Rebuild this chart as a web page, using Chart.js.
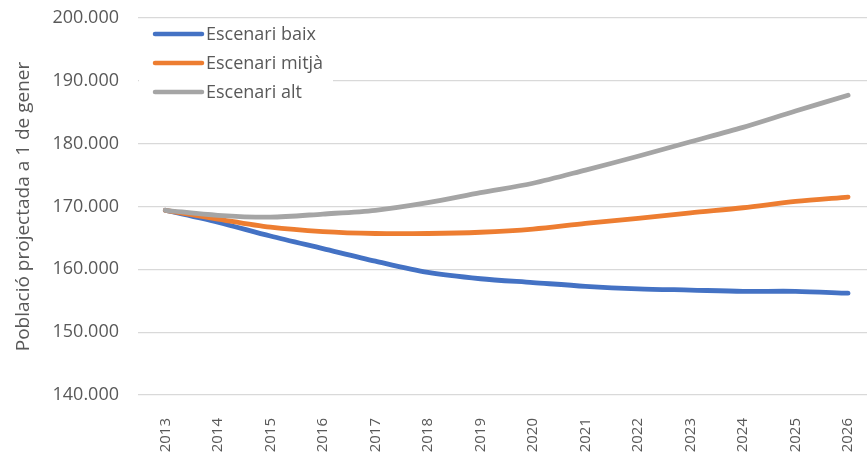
<!DOCTYPE html>
<html>
<head>
<meta charset="utf-8">
<script src="https://cdn.jsdelivr.net/npm/chart.js@4"></script>
<style>
  html, body { margin: 0; padding: 0; background: #fff; }
  #wrap { width: 867px; height: 453px; position: relative; }
</style>
</head>
<body>
<div id="wrap"><canvas id="chart" width="867" height="453"></canvas></div>
<script>
// Years and projected population per scenario
const years = [2013, 2014, 2015, 2016, 2017, 2018, 2019, 2020, 2021, 2022, 2023, 2024, 2025, 2026];
const baix  = [169400, 167500, 165300, 163300, 161300, 159500, 158500, 157900, 157300, 156900, 156700, 156500, 156500, 156200];
const mitja = [169400, 168000, 166700, 166000, 165700, 165700, 165900, 166400, 167300, 168100, 169000, 169800, 170800, 171500];
const alt   = [169400, 168600, 168300, 168800, 169400, 170600, 172200, 173700, 175800, 178000, 180300, 182600, 185200, 187700];
const seriesNames = ['Escenari baix', 'Escenari mitjà', 'Escenari alt'];
const seriesColors = ['#4472C4', '#ED7D31', '#A5A5A5'];
const yTicks = [140000, 150000, 160000, 170000, 180000, 190000, 200000];

const textColor = '#595959';
const font = '"Open Sans", Lato, sans-serif';

function toPoints(values) {
    return values.map((v, i) => ({ x: years[i], y: v }));
}

// Legend drawn inside the plot, top left, on a white box
const insideLegend = {
    id: 'insideLegend',
    afterDatasetsDraw(chart) {
        const ctx = chart.ctx;
        const left = chart.chartArea.left;
        ctx.save();
        ctx.fillStyle = '#ffffff';
        ctx.fillRect(left + 1, 22, 194, 86);
        ctx.font = '18px ' + font;
        ctx.textBaseline = 'middle';
        chart.data.datasets.forEach((ds, i) => {
            const y = 34 + i * 29;
            ctx.strokeStyle = ds.borderColor;
            ctx.lineWidth = 4.5;
            ctx.lineCap = 'round';
            ctx.beginPath();
            ctx.moveTo(left + 17, y);
            ctx.lineTo(left + 64, y);
            ctx.stroke();
            ctx.fillStyle = textColor;
            ctx.fillText(ds.label, left + 68, y + 1);
        });
        ctx.restore();
    }
};

const datasets = [baix, mitja, alt].map((vals, i) => ({
    label: seriesNames[i],
    data: toPoints(vals),
    borderColor: seriesColors[i],
    backgroundColor: seriesColors[i],
    borderWidth: 4.8,
    borderCapStyle: 'round',
    pointRadius: 0,
    tension: 0.3,
    fill: false
}));
// gray on top, then orange, blue at the bottom
datasets[0].order = 3;
datasets[1].order = 2;
datasets[2].order = 1;

new Chart(document.getElementById('chart'), {
    type: 'line',
    data: { datasets: datasets },
    plugins: [insideLegend],
    options: {
        responsive: false,
        animation: false,
        layout: { padding: { top: 18, right: 0, left: 0, bottom: 0 } },
        plugins: {
            legend: { display: false },
            tooltip: { enabled: false }
        },
        scales: {
            x: {
                type: 'linear',
                min: 2012.48,
                max: 2026.36,
                afterBuildTicks(scale) {
                    scale.ticks = years.map(v => ({ value: v }));
                },
                afterFit(scale) {
                    scale.height = 58;
                    scale.paddingLeft = 0;
                    scale.paddingRight = 0;
                },
                grid: { display: false, drawTicks: false },
                border: { display: false },
                ticks: {
                    color: textColor,
                    font: { family: font, size: 15 },
                    minRotation: 90,
                    maxRotation: 90,
                    padding: 23,
                    callback: v => String(v)
                }
            },
            y: {
                min: 140000,
                max: 200000,
                afterBuildTicks(scale) {
                    scale.ticks = yTicks.map(v => ({ value: v }));
                },
                afterFit(scale) {
                    scale.width = 138;
                    scale.paddingTop = 0;
                    scale.paddingBottom = 0;
                },
                grid: { color: '#d9d9d9', lineWidth: 1.3, drawTicks: false },
                border: { display: false },
                ticks: {
                    color: textColor,
                    font: { family: font, size: 18 },
                    padding: 19,
                    callback: v => v.toLocaleString('de-DE')
                },
                title: {
                    display: true,
                    text: 'Població projectada a 1 de gener',
                    color: textColor,
                    font: { family: font, size: 19 },
                    padding: { top: 12, bottom: 0 }
                }
            }
        }
    }
});
</script>
</body>
</html>
